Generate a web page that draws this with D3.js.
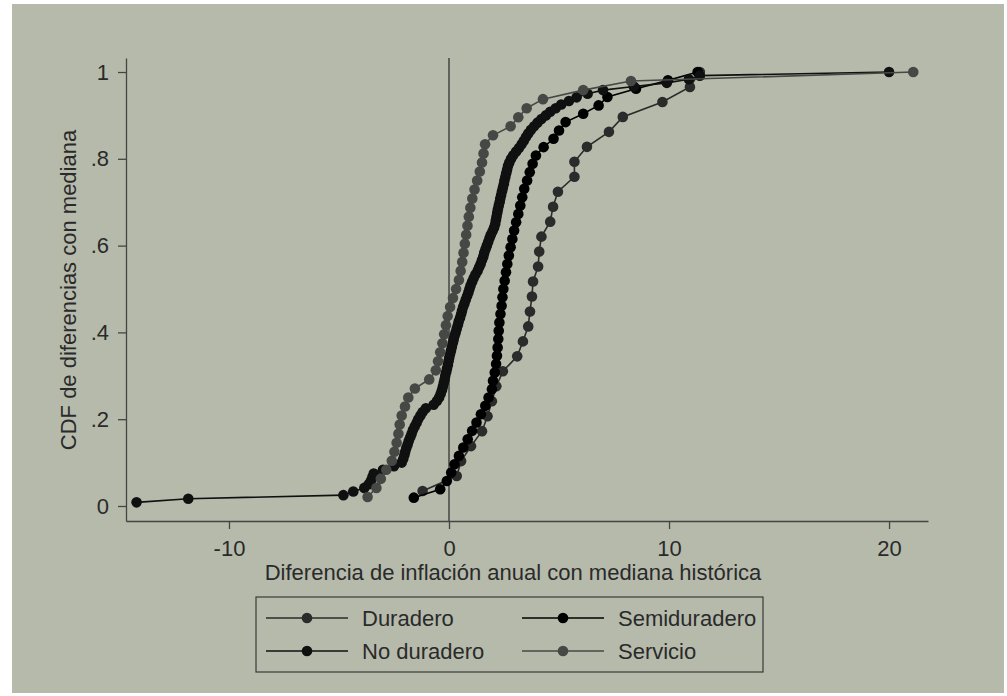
<!DOCTYPE html>
<html>
<head>
<meta charset="utf-8">
<script src="https://cdn.jsdelivr.net/npm/d3@7"></script>
<style>
  html, body { margin: 0; padding: 0; background: #fff; }
  svg { display: block; font-family: "Liberation Sans", Arial, sans-serif; }
</style>
</head>
<body>
<div id="chart"></div>
<script>
// valores x de cada serie (ordenados); la CDF es rango / n
const duraderoX = [-1.2, 0.35, 0.55, 1.0, 1.5, 1.75, 1.95, 2.15, 2.45, 3.1,
  3.36, 3.6, 3.68, 3.77, 3.82, 4.05, 4.1, 4.2, 4.6, 4.73,
  4.95, 5.7, 5.7, 6.27, 7.27, 7.9, 9.7, 10.95, 11.4];

const semiduraderoX = [-1.6, -0.4, -0.1, 0.1, 0.25, 0.45, 0.65, 0.85, 1.05, 1.25,
  1.45, 1.65, 1.8, 1.95, 2.0, 2.08, 2.14, 2.18, 2.21, 2.24,
  2.26, 2.29, 2.34, 2.39, 2.43, 2.47, 2.53, 2.59, 2.65, 2.72,
  2.8, 2.88, 2.96, 3.05, 3.15, 3.24, 3.33, 3.42, 3.55, 3.67,
  3.8, 3.95, 4.3, 4.75, 5.0, 5.3, 6.1, 6.8, 7.2, 8.5,
  9.95, 11.3];

const noDuraderoX = [-14.2, -11.85, -4.8, -4.35, -3.85, -3.65, -3.55, -3.48, -3.42, -3.0,
  -2.5, -2.15, -2.08, -2.03, -1.99, -1.94, -1.88, -1.83, -1.76, -1.7,
  -1.64, -1.56, -1.47, -1.4, -1.3, -1.2, -1.05, -0.7, -0.55, -0.45,
  -0.38, -0.32, -0.28, -0.24, -0.2, -0.17, -0.13, -0.09, -0.05, -0.02,
  0.01, 0.05, 0.09, 0.13, 0.17, 0.21, 0.25, 0.3, 0.35, 0.4,
  0.44, 0.5, 0.55, 0.59, 0.64, 0.7, 0.76, 0.82, 0.88, 0.93,
  0.98, 1.05, 1.12, 1.2, 1.3, 1.37, 1.44, 1.5, 1.56, 1.6,
  1.66, 1.72, 1.78, 1.84, 1.9, 1.98, 2.05, 2.1, 2.13, 2.16,
  2.19, 2.22, 2.26, 2.3, 2.33, 2.37, 2.41, 2.45, 2.49, 2.52,
  2.56, 2.6, 2.64, 2.68, 2.74, 2.82, 2.92, 3.05, 3.18, 3.3,
  3.4, 3.5, 3.6, 3.72, 3.87, 4.02, 4.2, 4.4, 4.6, 4.85,
  5.1, 5.45, 5.8, 6.3, 7.0, 8.4, 9.9, 10.9, 11.4, 20.0];

const servicioX = [-3.7, -3.3, -3.1, -2.85, -2.6, -2.48, -2.38, -2.3, -2.24, -2.15,
  -2.0, -1.85, -1.55, -0.9, -0.6, -0.5, -0.4, -0.3, -0.22, -0.14,
  -0.06, 0.05, 0.18, 0.32, 0.45, 0.53, 0.6, 0.66, 0.72, 0.78,
  0.84, 0.9, 0.97, 1.06, 1.16, 1.28, 1.4, 1.5, 1.57, 1.64,
  2.0, 2.8, 3.15, 3.53, 4.27, 6.1, 8.27, 21.1];

const xTicks = [-10, 0, 10, 20];
const yTicks = [0, 0.2, 0.4, 0.6, 0.8, 1];
const yTickLabels = ["0", ".2", ".4", ".6", ".8", "1"];

// orden de dibujo = orden de la leyenda
const series = [
  {name: "Duradero", xs: duraderoX, color: "#2b2b2b"},
  {name: "Semiduradero", xs: semiduraderoX, color: "#000000"},
  {name: "No duradero", xs: noDuraderoX, color: "#101010"},
  {name: "Servicio", xs: servicioX, color: "#464845"}
];

const W = 1007, H = 696;
const bg = "rgb(182,186,171)";
const fs = "22px";

const svg = d3.select("#chart").append("svg")
  .attr("width", W).attr("height", H);

svg.append("rect").attr("x", 12).attr("y", 4)
  .attr("width", W - 15).attr("height", H - 7).attr("fill", bg);

const x = d3.scaleLinear().domain([-14.68, 21.77]).range([126, 928]);
const y = d3.scaleLinear().domain([-0.0346, 1.0323]).range([521, 58]);

//ejes
const xAxis = svg.append("g").attr("transform", "translate(0,521)")
  .call(d3.axisBottom(x).tickValues(xTicks).tickSize(8).tickPadding(11).tickSizeOuter(0)
    .tickFormat(d => String(d)));
const yAxis = svg.append("g").attr("transform", "translate(126,0)")
  .call(d3.axisLeft(y).tickValues(yTicks).tickSize(8).tickPadding(9).tickSizeOuter(0)
    .tickFormat((d, i) => yTickLabels[i]));

[xAxis, yAxis].forEach(function(g){
  g.selectAll("path.domain").attr("stroke", "#444").attr("stroke-width", 1.3);
  g.selectAll(".tick line").attr("stroke", "#444").attr("stroke-width", 1.3);
  g.selectAll(".tick text").attr("fill", "#2a2a2a").style("font-size", fs);
});

svg.append("text").attr("x", 513).attr("y", 580).attr("text-anchor", "middle")
  .attr("fill", "#2a2a2a").style("font-size", fs)
  .text("Diferencia de inflación anual con mediana histórica");

svg.append("text").attr("transform", "translate(76,290) rotate(-90)")
  .attr("text-anchor", "middle").attr("fill", "#2a2a2a").style("font-size", fs)
  .text("CDF de diferencias con mediana");

// linea vertical en cero
svg.append("line").attr("x1", x(0)).attr("x2", x(0)).attr("y1", 58).attr("y2", 521)
  .attr("stroke", "#444").attr("stroke-width", 1.5);

const line = d3.line().x(d => x(d.x)).y(d => y(d.y));

series.forEach(function(s){
  const pts = s.xs.map((v, i) => ({x: v, y: (i + 1) / s.xs.length}));
  const g = svg.append("g");
  g.append("path").datum(pts).attr("d", line)
    .attr("fill", "none").attr("stroke", s.color).attr("stroke-width", 1.6);
  g.selectAll("circle").data(pts).enter().append("circle")
    .attr("cx", d => x(d.x)).attr("cy", d => y(d.y)).attr("r", 5.3)
    .attr("fill", s.color);
});

// leyenda
const legend = svg.append("g");
legend.append("rect").attr("x", 256).attr("y", 597).attr("width", 507).attr("height", 75)
  .attr("fill", "none").attr("stroke", "#3a3a3a").attr("stroke-width", 1.2);

const legendPos = [[266, 618], [522, 618], [266, 651], [522, 651]];
series.forEach(function(s, i){
  const p = legendPos[i];
  const item = legend.append("g").attr("transform", "translate(" + p[0] + "," + p[1] + ")");
  item.append("line").attr("x1", 0).attr("x2", 82).attr("y1", 0).attr("y2", 0)
    .attr("stroke", s.color).attr("stroke-width", 1.6);
  item.append("circle").attr("cx", 41).attr("cy", 0).attr("r", 5.3).attr("fill", s.color);
  item.append("text").attr("x", 96).attr("y", 0).attr("dy", "0.35em")
    .attr("fill", "#2a2a2a").style("font-size", fs).text(s.name);
});
</script>
</body>
</html>
